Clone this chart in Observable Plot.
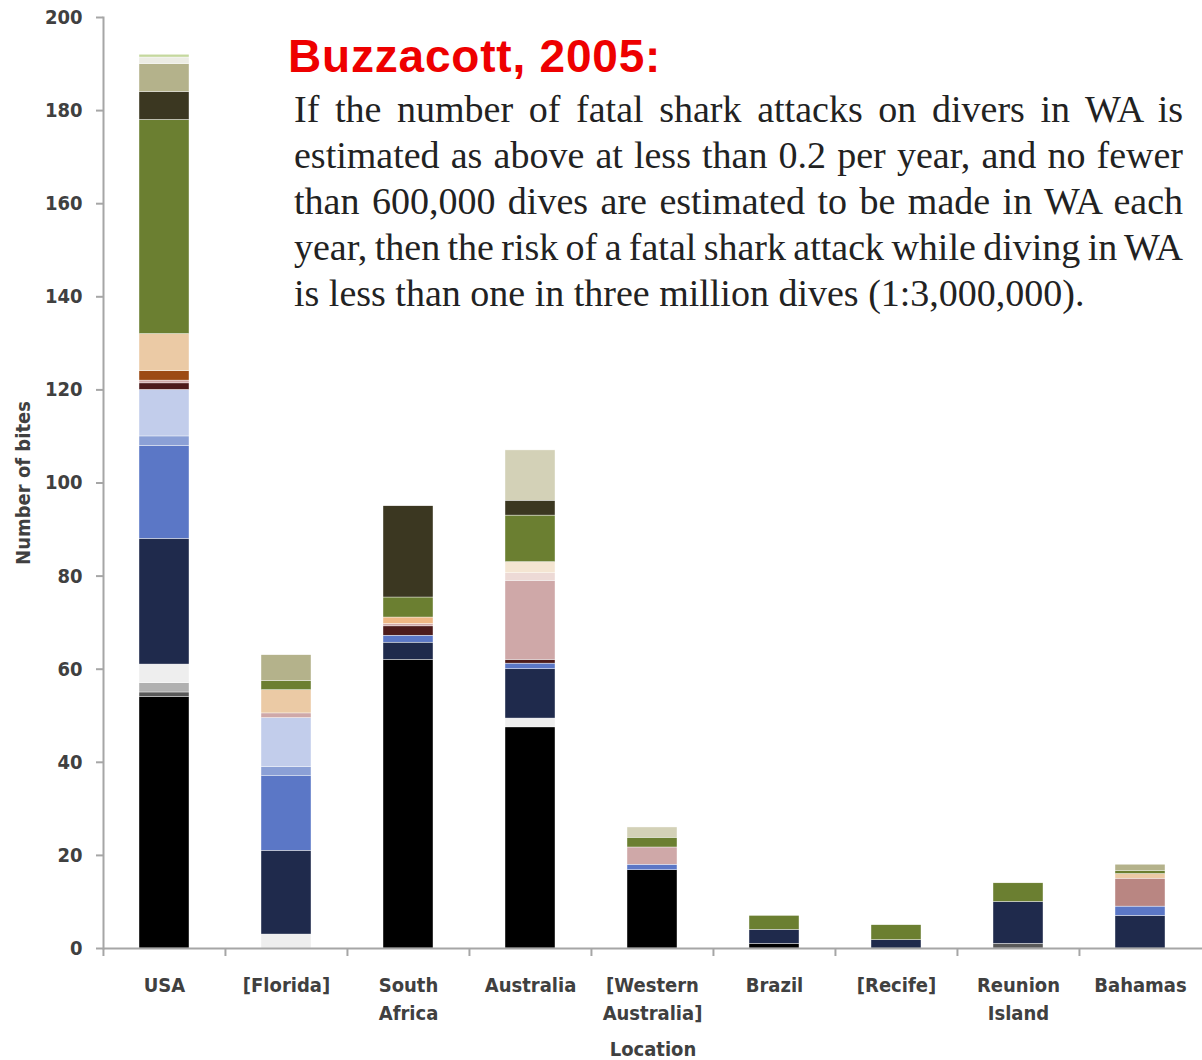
<!DOCTYPE html>
<html>
<head>
<meta charset="utf-8">
<script src="https://cdn.jsdelivr.net/npm/d3@7"></script>
<script src="https://cdn.jsdelivr.net/npm/@observablehq/plot@0.6"></script>
<style>
  html, body { margin: 0; padding: 0; background: #fff; }
  #wrap { position: relative; width: 1202px; height: 1060px; overflow: hidden; }
  #title { position: absolute; left: 288px; top: 33px; font: bold 46px "Liberation Sans", Arial, sans-serif; line-height: 46px; letter-spacing: 0.8px; color: #ee0000; white-space: nowrap; }
  #quote { position: absolute; left: 294px; top: 86px; width: 889px; font: 38px "Liberation Serif", "Times New Roman", serif; line-height: 46px; color: #222; }
  #quote div { white-space: nowrap; text-align: justify; text-align-last: justify; }
  #quote div.last { text-align-last: left; }
  #credit { position: absolute; left: 25px; top: 1057px; font: 30px "Liberation Sans", Arial, sans-serif; line-height: 30px; color: #000; white-space: nowrap; }
  #credit span { color: #1a1aff; }
</style>
</head>
<body>
<div id="wrap">
  <div id="chart"></div>
  <div id="title">Buzzacott, 2005:</div>
  <div id="quote"></div>
  <div id="credit">BHWSI data from <span>www.sharkattackfile.net</span> &nbsp;&nbsp;©2016</div>
</div>
<script>
// ---- data ----
const locations = ["USA", "[Florida]", "South Africa", "Australia", "[Western Australia]", "Brazil", "[Recife]", "Reunion Island", "Bahamas"];
const locationLabels = ["USA", "[Florida]", "South\nAfrica", "Australia", "[Western\nAustralia]", "Brazil", "[Recife]", "Reunion\nIsland", "Bahamas"];
const series = ["Category 1", "Category 2", "Category 3", "Category 4", "Category 5", "Category 6", "Category 7", "Category 8", "Category 9", "Category 10", "Category 11",
                "Category 12", "Category 13", "Category 14", "Category 15", "Category 16", "Category 17", "Category 18", "Category 19", "Category 20", "Category 21", "Category 22"];
const seriesColors = ["#000000", "#595959", "#b0b0b0", "#eeeeee", "#1f2a4c", "#5b77c6", "#8ba0d6", "#c2cdeb", "#4d1b1b", "#cfa8a8", "#b98682",
                      "#9c4a14", "#eeb784", "#eddad6", "#ebcaa5", "#f4e5d2", "#6b7f31", "#3b3721", "#b4b28b", "#d3d1b7", "#ecece4", "#c5d89e"];
const usa          = [54, 1, 2, 4, 27, 20, 2, 10, 1.4, 0.6, 0, 2, 0, 0, 8, 0, 46, 6, 6, 0, 1.4, 0.6];
const florida      = [0, 0, 0, 3, 18, 16, 2, 10.5, 0, 1, 0, 0, 0, 0, 5, 0, 2, 0, 5.5, 0, 0, 0];
const southAfrica  = [62, 0, 0, 0, 3.7, 1.5, 0, 0, 2, 0.5, 0, 0, 1.4, 0, 0, 0, 4.3, 19.6, 0, 0, 0, 0];
const australia    = [47.5, 0, 0, 1.9, 10.6, 1.2, 0, 0, 0.8, 17, 0, 0, 0, 1.6, 0, 2.4, 10, 3.2, 0, 10.8, 0, 0];
const westernAus   = [16.8, 0, 0, 0, 0, 1.2, 0, 0, 0, 3.7, 0, 0, 0, 0, 0, 0, 2.1, 0, 0, 2.2, 0, 0];
const brazil       = [1, 0, 0, 0, 3, 0, 0, 0, 0, 0, 0, 0, 0, 0, 0, 0, 3, 0, 0, 0, 0, 0];
const recife       = [0, 0, 0, 0, 1.8, 0, 0, 0, 0, 0, 0, 0, 0, 0, 0, 0, 3.2, 0, 0, 0, 0, 0];
const reunion      = [0, 1, 0, 0, 9, 0, 0, 0, 0, 0, 0, 0, 0, 0, 0, 0, 4, 0, 0, 0, 0, 0];
const bahamas      = [0, 0, 0, 0, 7, 2, 0, 0, 0, 0, 6, 0, 0, 0, 1, 0, 0.7, 0, 1.3, 0, 0, 0];
const yTicks = [0, 20, 40, 60, 80, 100, 120, 140, 160, 180, 200];
const quoteLines = [
  "If the number of fatal shark attacks on divers in WA is",
  "estimated as above at less than 0.2 per year, and no fewer",
  "than 600,000 dives are estimated to be made in WA each",
  "year, then the risk of a fatal shark attack while diving in WA",
  "is less than one in three million dives (1:3,000,000)."
];

// ---- quote text (explicit lines, justified, squeezed if needed) ----
const quoteEl = document.getElementById("quote");
quoteLines.forEach((line, i) => {
  const div = document.createElement("div");
  div.textContent = line;
  if (i === quoteLines.length - 1) div.className = "last";
  quoteEl.appendChild(div);
  const probe = document.createElement("span");
  probe.textContent = line;
  probe.style.whiteSpace = "nowrap";
  div.textContent = "";
  div.appendChild(probe);
  const natural = probe.getBoundingClientRect().width;
  div.textContent = line;
  const spaces = (line.match(/ /g) || []).length;
  if (natural > 889 && spaces) div.style.wordSpacing = (-(natural - 889) / spaces - 0.2) + "px";
});

const valuesByLocation = [usa, florida, southAfrica, australia, westernAus, brazil, recife, reunion, bahamas];
const rows = [];
locations.forEach((loc, i) => {
  valuesByLocation[i].forEach((v, j) => {
    if (v > 0) rows.push({location: loc, series: series[j], value: v});
  });
});
const labelOf = new Map(locations.map((l, i) => [l, locationLabels[i]]));

// ---- layout ----
const W = 1202, H = 1060, mL = 103, mR = 0, mT = 17, mB = 112;
const pIn = 0.59, pOut = 0.295;
const step = (W - mL - mR) / (locations.length - pIn + 2 * pOut);
const axisColor = "#a6a6a6";
const textColor = "#404040";
const font = '"Liberation Sans Narrow", "DejaVu Sans Condensed", "Liberation Sans", sans-serif';

const chart = Plot.plot({
  width: W, height: H,
  marginLeft: mL, marginRight: mR, marginTop: mT, marginBottom: mB,
  style: {fontFamily: font, fontSize: "20px", color: textColor, background: "transparent"},
  x: {domain: locations, paddingInner: pIn, paddingOuter: pOut},
  y: {domain: [0, 200]},
  color: {domain: series, range: seriesColors},
  marks: [
    Plot.barY(rows, {x: "location", y: "value", fill: "series", stroke: "#ffffff", strokeWidth: 0.4}),
    Plot.frame({anchor: "left", stroke: axisColor, strokeWidth: 2}),
    Plot.ruleY([0], {stroke: axisColor, strokeWidth: 2}),
    Plot.axisY({ticks: yTicks, tickSize: 7, tickPadding: 14, stroke: axisColor, strokeWidth: 2, fill: textColor,
      fontWeight: "bold", fontSize: 20,
      label: "Number of bites", labelAnchor: "center", labelArrow: "none", labelOffset: 88}),
    Plot.axisX({tickSize: 8, tickFormat: () => "", dx: -step / 2, stroke: axisColor, strokeWidth: 2, label: null}),
    Plot.axisX({tickSize: 0, tickPadding: 23, tickFormat: d => labelOf.get(d), lineHeight: 1.42, fill: textColor,
      fontWeight: "bold", fontSize: 20,
      label: "Location", labelAnchor: "center", labelArrow: "none", labelOffset: 107})
  ]
});
document.getElementById("chart").appendChild(chart);
</script>
</body>
</html>
